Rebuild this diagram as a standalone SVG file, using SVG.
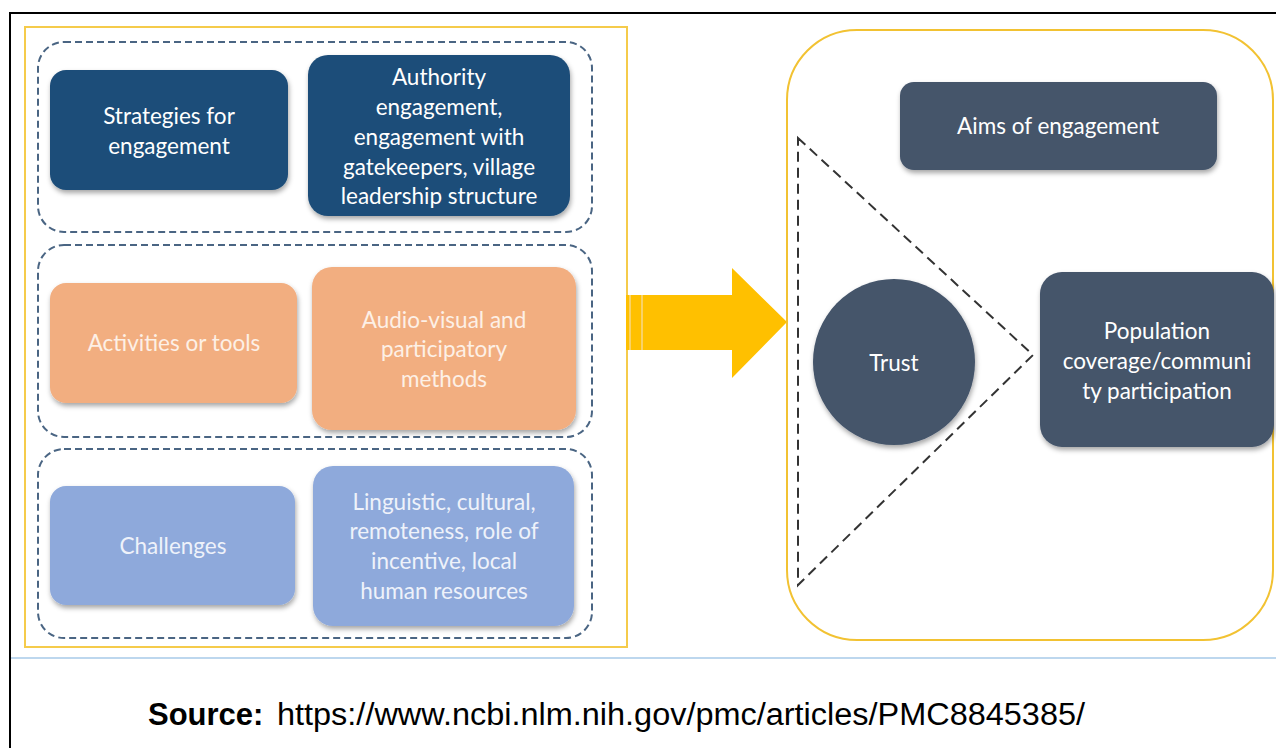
<svg xmlns="http://www.w3.org/2000/svg" width="1276" height="748" viewBox="0 0 1276 748">
<defs>
<style>
.lbl{font-family:Lato,"Open Sans","Liberation Sans",sans-serif;font-size:22.5px;text-anchor:middle}
.w{fill:#ffffff}
.wo{fill:#FDF0E6}
.wb{fill:#EEF2FA}
.grp{fill:none;stroke:#4A6583;stroke-width:2;stroke-dasharray:7 4}
.navy{fill:#1F4E79}
.orng{fill:#F2AE80}
.blue{fill:#8EA9DB}
.slate{fill:#44546A}
</style>
<filter id="sh" x="-10%" y="-10%" width="125%" height="130%">
<feDropShadow dx="1" dy="3" stdDeviation="2.5" flood-color="#000" flood-opacity="0.35"/>
</filter>
</defs>
<rect x="0" y="0" width="1276" height="748" fill="#ffffff"/>
<g id="frame">
<line x1="10" y1="13" x2="1276" y2="13" stroke="#000" stroke-width="2"/>
<line x1="10" y1="12" x2="10" y2="748" stroke="#000" stroke-width="2"/>
<line x1="11" y1="658" x2="1276" y2="658" stroke="#BDD7EE" stroke-width="2"/>
</g>
<g id="left-panel">
<rect x="25" y="27" width="602" height="620" fill="none" stroke="#F5CB4B" stroke-width="2"/>
<rect class="grp" x="38" y="42" width="554" height="190" rx="26"/>
<rect class="grp" x="38" y="245" width="554" height="192" rx="26"/>
<rect class="grp" x="38" y="449" width="554" height="189" rx="26"/>
</g>
<g id="n-strategies">
<rect class="navy" filter="url(#sh)" x="50" y="70" width="238" height="120" rx="16"/>
<text class="lbl w" x="169" y="124">Strategies for</text>
<text class="lbl w" x="169" y="154">engagement</text>
</g>
<g id="n-authority">
<rect class="navy" filter="url(#sh)" x="308" y="55" width="262" height="161" rx="20"/>
<text class="lbl w" x="439" y="85">Authority</text>
<text class="lbl w" x="439" y="115">engagement,</text>
<text class="lbl w" x="439" y="145">engagement with</text>
<text class="lbl w" x="439" y="175">gatekeepers, village</text>
<text class="lbl w" x="439" y="204">leadership structure</text>
</g>
<g id="n-activities">
<rect class="orng" filter="url(#sh)" x="50" y="283" width="247" height="120" rx="16"/>
<text class="lbl wo" x="174" y="351">Activities or tools</text>
</g>
<g id="n-audio">
<rect class="orng" filter="url(#sh)" x="312" y="267" width="264" height="163" rx="20"/>
<text class="lbl wo" x="444" y="328">Audio-visual and</text>
<text class="lbl wo" x="444" y="357">participatory</text>
<text class="lbl wo" x="444" y="387">methods</text>
</g>
<g id="n-challenges">
<rect class="blue" filter="url(#sh)" x="50" y="486" width="245" height="119" rx="16"/>
<text class="lbl wb" x="173" y="554">Challenges</text>
</g>
<g id="n-linguistic">
<rect class="blue" filter="url(#sh)" x="313" y="466" width="261" height="160" rx="20"/>
<text class="lbl wb" x="444" y="510">Linguistic, cultural,</text>
<text class="lbl wb" x="444" y="539">remoteness, role of</text>
<text class="lbl wb" x="444" y="569">incentive, local</text>
<text class="lbl wb" x="444" y="599">human resources</text>
</g>
<g id="connectors">
<g id="big-arrow">
<polygon points="626,295 732,295 732,268 787,322 732,378 732,350 626,350" fill="#FFC000"/>
<line x1="630" y1="295" x2="630" y2="350" stroke="#F7D88A" stroke-width="1.5"/>
<line x1="642" y1="295" x2="642" y2="350" stroke="#F7D88A" stroke-width="1.5"/>
</g>
</g>
<g id="right-panel">
<rect x="787" y="30" width="486" height="610" rx="70" fill="none" stroke="#F2C232" stroke-width="2"/>
<polygon points="798,138 1033,355 798,585" fill="none" stroke="#333" stroke-width="2" stroke-dasharray="10 6"/>
</g>
<g id="n-aims">
<rect class="slate" filter="url(#sh)" x="900" y="82" width="317" height="88" rx="14"/>
<text class="lbl w" x="1058" y="134">Aims of engagement</text>
</g>
<g id="n-trust">
<ellipse class="slate" filter="url(#sh)" cx="894" cy="362" rx="81" ry="83"/>
<text class="lbl w" x="894" y="371">Trust</text>
</g>
<g id="n-population">
<rect class="slate" filter="url(#sh)" x="1040" y="272" width="234" height="175" rx="22"/>
<text class="lbl w" x="1157" y="339">Population</text>
<text class="lbl w" x="1157" y="369">coverage/communi</text>
<text class="lbl w" x="1157" y="399">ty participation</text>
</g>
<g id="source">
<text x="148" y="725" font-family="'Liberation Sans',Arial,sans-serif" font-size="31" fill="#000"><tspan font-weight="bold">Source:</tspan><tspan x="277" textLength="808" lengthAdjust="spacingAndGlyphs">https://www.ncbi.nlm.nih.gov/pmc/articles/PMC8845385/</tspan></text>
</g>
</svg>
